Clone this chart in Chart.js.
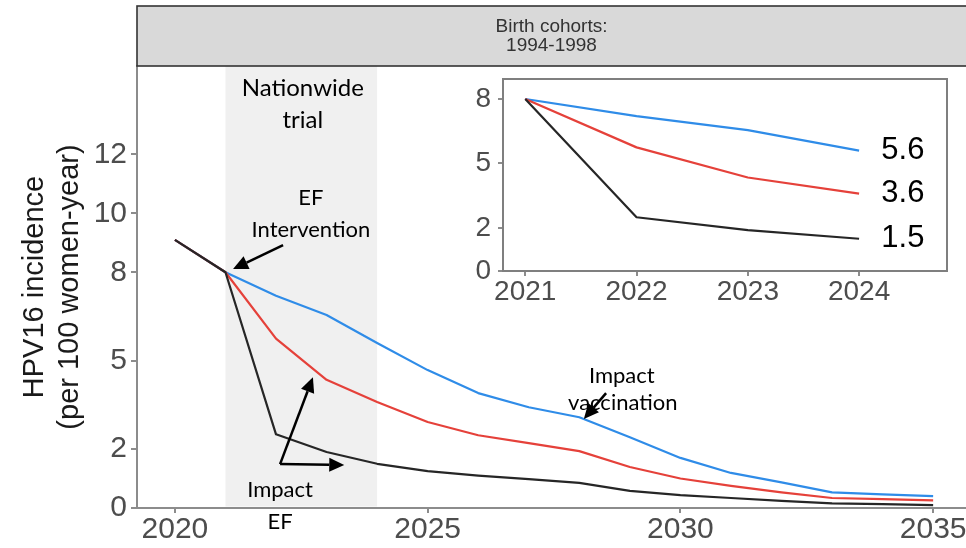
<!DOCTYPE html>
<html>
<head>
<meta charset="utf-8">
<script src="https://cdn.jsdelivr.net/npm/chart.js@4.4.0/dist/chart.umd.min.js"></script>
<style>
  html, body { margin: 0; padding: 0; background: #ffffff; }
  #wrap { position: relative; width: 966px; height: 548px; overflow: hidden; }
  #main { position: absolute; left: 0; top: 0; }
  #inset { position: absolute; left: 440px; top: 70px; }
</style>
</head>
<body>
<div id="wrap">
  <canvas id="main" width="966" height="548"></canvas>
  <canvas id="inset" width="526" height="250"></canvas>
</div>
<script>
// HPV16 incidence per 100 women-year, birth cohorts 1994-1998
const years = [2020, 2021, 2022, 2023, 2024, 2025, 2026, 2027, 2028, 2029, 2030, 2031, 2032, 2033, 2034, 2035];
const efVals   = [9.1, 8.0, 2.5, 1.9, 1.5, 1.25, 1.1, 0.98, 0.85, 0.58, 0.44, 0.34, 0.24, 0.16, 0.13, 0.10];
const redVals  = [9.1, 8.0, 5.75, 4.35, 3.6, 2.92, 2.47, 2.2, 1.93, 1.39, 1.0, 0.75, 0.53, 0.34, 0.30, 0.26];
const blueVals = [9.1, 8.0, 7.2, 6.55, 5.6, 4.68, 3.9, 3.42, 3.08, 2.4, 1.7, 1.19, 0.87, 0.53, 0.46, 0.40];

const xTicksMain = [2020, 2025, 2030, 2035];
const yTicksMain = [0, 2, 5, 8, 10, 12];
const xTicksInset = [2021, 2022, 2023, 2024];
const yTicksInset = [0, 2, 5, 8];

const stripLines = ['Birth cohorts:', '1994-1998'];
const trialPeriod = [2021, 2024];
const yTitle = ['HPV16 incidence', '(per 100 women-year)'];

// first and last year shown in the zoomed panel
const insetFrom = 2021, insetTo = 2024;

const SANS = '"Liberation Sans", Arial, Helvetica, sans-serif';
const NOTE = 'Lato, "Open Sans", sans-serif';
const AXIS_GREY = '#8c8c8c';
const TICK_TEXT = '#4d4d4d';
const COLORS = { ef: '#262626', red: '#e5413a', blue: '#2f8ce8' };

// text notes and arrows placed in data units (year, incidence)
const notes = [
  { text: 'Nationwide',   x: 2022.53, y: 14.25, size: 24 },
  { text: 'trial',        x: 2022.53, y: 13.17, size: 24 },
  { text: 'EF',           x: 2022.69, y: 10.52, size: 22 },
  { text: 'Intervention', x: 2022.69, y: 9.43,  size: 22 },
  { text: 'Impact',       x: 2022.08, y: 0.61,  size: 22 },
  { text: 'EF',           x: 2022.08, y: -0.47, size: 22 },
  { text: 'Impact',       x: 2028.84, y: 4.48,  size: 22 },
  { text: 'vaccination',  x: 2028.86, y: 3.56,  size: 22 }
];
const arrows = [
  { from: [2022.14, 8.92], to: [2021.15, 8.11] },
  { from: [2022.08, 1.49], to: [2022.73, 4.44] },
  { from: [2022.08, 1.49], to: [2023.35, 1.46] },
  { from: [2028.53, 3.90], to: [2028.09, 3.02] }
];

function series(vals, from, to) {
  const out = [];
  years.forEach((yr, i) => {
    if (yr >= from && yr <= to) out.push({ x: yr, y: vals[i] });
  });
  return out;
}

function lineSet(label, vals, color, from, to) {
  return {
    label: label,
    data: series(vals, from, to),
    borderColor: color,
    backgroundColor: color,
    borderWidth: 2.2,
    pointRadius: 0,
    tension: 0,
    fill: false,
    borderJoinStyle: 'round'
  };
}

function drawArrow(ctx, x1, y1, x2, y2) {
  const ang = Math.atan2(y2 - y1, x2 - x1);
  const hl = 15, hw = 7;
  const bx = x2 - hl * Math.cos(ang), by = y2 - hl * Math.sin(ang);
  ctx.save();
  ctx.strokeStyle = '#000';
  ctx.fillStyle = '#000';
  ctx.lineWidth = 2.5;
  ctx.beginPath();
  ctx.moveTo(x1, y1);
  ctx.lineTo(bx, by);
  ctx.stroke();
  ctx.beginPath();
  ctx.moveTo(x2, y2);
  ctx.lineTo(bx + hw * Math.sin(ang), by - hw * Math.cos(ang));
  ctx.lineTo(bx - hw * Math.sin(ang), by + hw * Math.cos(ang));
  ctx.closePath();
  ctx.fill();
  ctx.restore();
}

// shaded trial period behind the lines
const bandPlugin = {
  id: 'trialBand',
  beforeDatasetsDraw(chart) {
    const { ctx, chartArea, scales } = chart;
    const x1 = scales.x.getPixelForValue(trialPeriod[0]);
    const x2 = scales.x.getPixelForValue(trialPeriod[1]);
    ctx.save();
    ctx.fillStyle = '#f0f0f0';
    ctx.fillRect(x1, chartArea.top, x2 - x1, chartArea.bottom - chartArea.top - 1.5);
    ctx.restore();
  }
};

// facet strip above the panel
const stripPlugin = {
  id: 'facetStrip',
  afterDraw(chart) {
    const { ctx, chartArea } = chart;
    const left = chartArea.left, top = 6, h = chartArea.top - 6;
    ctx.save();
    ctx.fillStyle = '#d9d9d9';
    ctx.fillRect(left, top, chart.width - left + 10, h);
    ctx.strokeStyle = '#333333';
    ctx.lineWidth = 1.6;
    ctx.strokeRect(left, top, chart.width - left + 10, h);
    ctx.fillStyle = '#333333';
    ctx.font = '19px ' + SANS;
    ctx.textAlign = 'center';
    ctx.textBaseline = 'middle';
    const cx = (left + chart.width) / 2;
    ctx.fillText(stripLines[0], cx, 27);
    ctx.fillText(stripLines[1], cx, 46);
    ctx.restore();
  }
};

const notesPlugin = {
  id: 'notes',
  afterDatasetsDraw(chart) {
    const { ctx, scales } = chart;
    const px = v => scales.x.getPixelForValue(v);
    const py = v => scales.y.getPixelForValue(v);
    ctx.save();
    ctx.fillStyle = '#000';
    ctx.textAlign = 'center';
    ctx.textBaseline = 'middle';
    notes.forEach(n => {
      ctx.font = n.size + 'px ' + NOTE;
      ctx.fillText(n.text, px(n.x), py(n.y));
    });
    ctx.restore();
    arrows.forEach(a => drawArrow(ctx, px(a.from[0]), py(a.from[1]), px(a.to[0]), py(a.to[1])));
  }
};

new Chart(document.getElementById('main'), {
  type: 'line',
  data: {
    datasets: [
      lineSet('EF', efVals, COLORS.ef, 2020, 2035),
      lineSet('EF + vaccination', redVals, COLORS.red, 2020, 2035),
      lineSet('Vaccination', blueVals, COLORS.blue, 2020, 2035)
    ]
  },
  options: {
    responsive: false,
    animation: false,
    devicePixelRatio: 1,
    layout: { padding: { top: 66, right: 0, bottom: 0, left: 0 } },
    plugins: { legend: { display: false }, tooltip: { enabled: false } },
    scales: {
      x: {
        type: 'linear',
        min: 2019.25,
        max: 2035.65,
        afterBuildTicks: s => { s.ticks = xTicksMain.map(v => ({ value: v })); },
        afterFit: s => { s.height = 40; s.paddingLeft = 0; s.paddingRight = 0; },
        grid: { drawOnChartArea: false, drawTicks: true, tickLength: 5, color: AXIS_GREY, lineWidth: 2 },
        border: { display: true, color: AXIS_GREY, width: 2 },
        ticks: {
          color: TICK_TEXT, font: { family: SANS, size: 30, lineHeight: 1 },
          padding: 2, maxRotation: 0, autoSkip: false, callback: v => String(v)
        }
      },
      y: {
        type: 'linear',
        min: 0,
        max: 15,
        afterBuildTicks: s => { s.ticks = yTicksMain.map(v => ({ value: v })); },
        afterFit: s => { s.width = 137; s.paddingTop = 0; s.paddingBottom = 0; },
        grid: { drawOnChartArea: false, drawTicks: true, tickLength: 6, color: AXIS_GREY, lineWidth: 2 },
        border: { display: true, color: AXIS_GREY, width: 2 },
        ticks: {
          color: TICK_TEXT, font: { family: SANS, size: 30, lineHeight: 1 },
          padding: 4, autoSkip: false, callback: v => String(v)
        },
        title: {
          display: true, text: yTitle, color: '#1a1a1a',
          font: { family: SANS, size: 29, lineHeight: 1.2 },
          padding: { top: 17.6, bottom: 0 }
        }
      }
    }
  },
  plugins: [bandPlugin, stripPlugin, notesPlugin]
});

// zoomed panel: white box with border, value labels at the last year
const insetPlugin = {
  id: 'insetBox',
  beforeDraw(chart) {
    const { ctx, chartArea: a } = chart;
    ctx.save();
    ctx.fillStyle = '#ffffff';
    ctx.fillRect(a.left, a.top, a.right - a.left, a.bottom - a.top);
    ctx.restore();
  },
  afterDraw(chart) {
    const { ctx, chartArea: a, scales } = chart;
    ctx.save();
    ctx.strokeStyle = '#7f7f7f';
    ctx.lineWidth = 2;
    ctx.strokeRect(a.left, a.top, a.right - a.left, a.bottom - a.top);
    ctx.fillStyle = '#000';
    ctx.font = '31px ' + SANS;
    ctx.textAlign = 'left';
    ctx.textBaseline = 'middle';
    chart.data.datasets.forEach(ds => {
      const last = ds.data[ds.data.length - 1];
      ctx.fillText(last.y.toFixed(1), scales.x.getPixelForValue(last.x + 0.2), scales.y.getPixelForValue(last.y));
    });
    ctx.restore();
  }
};

new Chart(document.getElementById('inset'), {
  type: 'line',
  data: {
    datasets: [
      lineSet('EF', efVals, COLORS.ef, insetFrom, insetTo),
      lineSet('EF + vaccination', redVals, COLORS.red, insetFrom, insetTo),
      lineSet('Vaccination', blueVals, COLORS.blue, insetFrom, insetTo)
    ]
  },
  options: {
    responsive: false,
    animation: false,
    devicePixelRatio: 1,
    layout: { padding: { top: 9, right: 19, bottom: 0, left: 0 } },
    plugins: { legend: { display: false }, tooltip: { enabled: false } },
    scales: {
      x: {
        type: 'linear',
        min: 2020.8,
        max: 2024.79,
        afterBuildTicks: s => { s.ticks = xTicksInset.map(v => ({ value: v })); },
        afterFit: s => { s.height = 49; s.paddingLeft = 0; s.paddingRight = 0; },
        grid: { drawOnChartArea: false, drawTicks: true, tickLength: 5, color: AXIS_GREY, lineWidth: 2 },
        border: { display: false },
        ticks: {
          color: TICK_TEXT, font: { family: SANS, size: 28, lineHeight: 1 },
          padding: 2, maxRotation: 0, autoSkip: false, callback: v => String(v)
        }
      },
      y: {
        type: 'linear',
        min: 0,
        max: 8.93,
        afterBuildTicks: s => { s.ticks = yTicksInset.map(v => ({ value: v })); },
        afterFit: s => { s.width = 63; s.paddingTop = 0; s.paddingBottom = 0; },
        grid: { drawOnChartArea: false, drawTicks: true, tickLength: 5, color: AXIS_GREY, lineWidth: 2 },
        border: { display: false },
        ticks: {
          color: TICK_TEXT, font: { family: SANS, size: 28, lineHeight: 1 },
          padding: 7, autoSkip: false, callback: v => String(v)
        }
      }
    }
  },
  plugins: [insetPlugin]
});
</script>
</body>
</html>
